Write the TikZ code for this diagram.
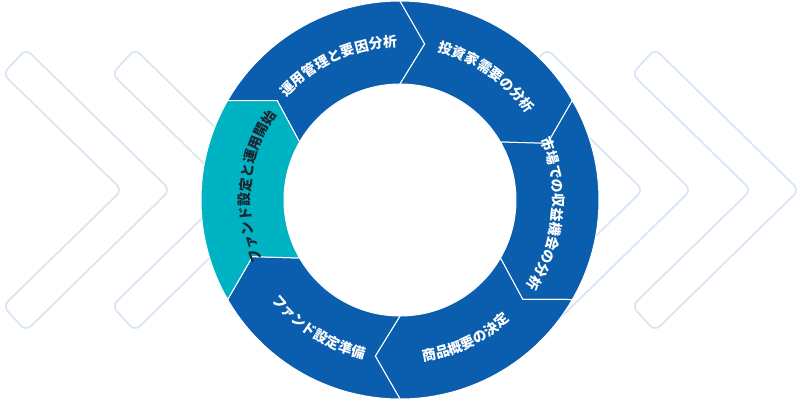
\documentclass[tikz,border=0pt]{standalone}
\usepackage{fontspec}
\newfontfamily\jpfont{Noto Sans CJK JP}
\usetikzlibrary{decorations.text}
\definecolor{ringblue}{HTML}{0B5EAE}
\definecolor{ringteal}{HTML}{00B3C2}
\definecolor{chevline}{HTML}{D7E3F1}
\definecolor{darktext}{HTML}{1B2530}

\tikzset{
	seg/.style={draw=white, line width=1bp, line join=miter},
	chev/.style={draw=chevline, line width=1.6bp, rounded corners=7bp}
}

% label running clockwise, tops outward
\newcommand\cwlabel[4]{%
	\path[decorate, decoration={text along path, text align=center,
		text={|\jpfont\bfseries\fontsize{14}{15}\selectfont\color{#2}|#3}}]
		({#1+40}:#4) arc[start angle={#1+40}, end angle={#1-40}, radius=#4];}
% label running counterclockwise, tops inward
\newcommand\ccwlabel[3]{%
	\path[decorate, decoration={text along path, text align=center,
		text={|\jpfont\bfseries\fontsize{14}{15}\selectfont\color{#2}|#3}}]
		({#1-40}:163) arc[start angle={#1-40}, end angle={#1+40}, radius=163];}

\begin{document}
\begin{tikzpicture}[x=1bp,y=1bp]
	\useasboundingbox (-400,-200) rectangle (400,200);
	
	% background chevrons
	\foreach \x in {3,112,524,632}
	{
		\draw[chev] (\x-400,126) -- (\x-377,151) -- (\x-233,10) -- (\x-377,-131) -- (\x-400,-106) -- (\x-281,10) -- cycle;
	}
	
	\fill[white] (0,0) circle[radius=116];
	
	% ring segments
	\foreach \a/\col in {150/ringblue,90/ringblue,30/ringblue,-30/ringblue,-90/ringblue,210/ringteal}
	{
		\filldraw[seg, fill=\col] (\a:199) arc[start angle=\a, end angle={\a-60}, radius=199]
			-- ({\a-69}:158) -- ({\a-60}:116) arc[start angle={\a-60}, end angle=\a, radius=116]
			-- ({\a-9}:158) -- cycle;
	}
	
	\cwlabel{114.5}{white}{運用管理と要因分析}{153}
	\cwlabel{55}{white}{投資家需要の分析}{153}
	\cwlabel{-5.5}{white}{市場での収益機会の分析}{153}
	\ccwlabel{-64.5}{white}{商品概要の決定}
	\ccwlabel{-122.5}{white}{ファンド設定準備}
	\cwlabel{174.5}{darktext}{ファンド設定と運用開始}{150}
\end{tikzpicture}
\end{document}
